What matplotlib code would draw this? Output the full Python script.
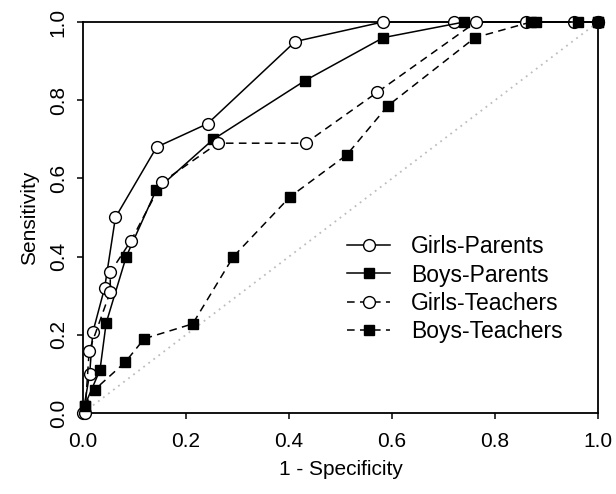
import matplotlib
matplotlib.use("Agg")
import matplotlib.pyplot as plt

plt.rcParams["font.family"] = ["Liberation Sans", "DejaVu Sans"]

# ROC points
girls_parents_x = [0.0, 0.013, 0.019, 0.042, 0.063, 0.143, 0.242, 0.412, 0.582, 0.72, 0.953, 1.0]
girls_parents_y = [0.0, 0.10, 0.206, 0.32, 0.50, 0.68, 0.74, 0.95, 1.0, 1.0, 1.0, 1.0]

boys_parents_x = [0.003, 0.033, 0.045, 0.084, 0.142, 0.253, 0.431, 0.583, 0.74, 0.88, 1.0]
boys_parents_y = [0.018, 0.11, 0.23, 0.40, 0.57, 0.70, 0.85, 0.96, 1.0, 1.0, 1.0]

girls_teachers_x = [0.004, 0.012, 0.053, 0.053, 0.093, 0.153, 0.262, 0.432, 0.571, 0.763, 0.86, 1.0]
girls_teachers_y = [0.0, 0.159, 0.31, 0.36, 0.44, 0.59, 0.69, 0.69, 0.82, 1.0, 1.0, 1.0]

boys_teachers_x = [0.003, 0.023, 0.082, 0.119, 0.213, 0.292, 0.402, 0.512, 0.592, 0.761, 0.87, 0.96, 1.0]
boys_teachers_y = [0.018, 0.06, 0.13, 0.19, 0.228, 0.40, 0.553, 0.66, 0.786, 0.96, 1.0, 1.0, 1.0]

ticks = [0.0, 0.2, 0.4, 0.6, 0.8, 1.0]

fig = plt.figure(figsize=(6.16, 4.94), dpi=100)
ax = fig.add_axes([0.1347, 0.164, 0.8363, 0.7915])

ax.plot([0, 1], [0, 1], color="#bdbdbd", linestyle=(0, (1, 2.5)), linewidth=1.3, zorder=1)

lw = 1.1
common = dict(color="black", linewidth=lw, clip_on=False, zorder=3)
ax.plot(girls_parents_x, girls_parents_y, marker="o", markersize=8.5, markerfacecolor="white",
        markeredgecolor="black", markeredgewidth=1.0, label="Girls-Parents", **common)
ax.plot(boys_parents_x, boys_parents_y, marker="s", markersize=7, markerfacecolor="black",
        markeredgecolor="black", label="Boys-Parents", **common)
ax.plot(girls_teachers_x, girls_teachers_y, marker="o", markersize=8.5, markerfacecolor="white",
        markeredgecolor="black", markeredgewidth=1.0, dashes=(5, 3.5), label="Girls-Teachers", **common)
ax.plot(boys_teachers_x, boys_teachers_y, marker="s", markersize=7, markerfacecolor="black",
        markeredgecolor="black", dashes=(5, 3.5), label="Boys-Teachers", **common)

ax.set_xlim(0, 1)
ax.set_ylim(0, 1)
ax.set_xticks(ticks)
ax.set_yticks(ticks)
ax.set_xticklabels([f"{t:.1f}" for t in ticks])
ax.set_yticklabels([f"{t:.1f}" for t in ticks], rotation=90, va="center")
ax.tick_params(direction="out", length=4, width=1.1, labelsize=15, top=False, right=False)
ax.tick_params(axis="x", pad=10)
ax.tick_params(axis="y", pad=7)
for s in ax.spines.values():
    s.set_linewidth(1.3)

ax.set_xlabel("1 - Specificity", fontsize=15, labelpad=6)
ax.set_ylabel("Sensitivity", fontsize=15, labelpad=7)

ax.legend(loc="center left", bbox_to_anchor=(0.49, 0.317), frameon=False, fontsize=16.5,
          numpoints=1, handlelength=1.9, handletextpad=0.9, labelspacing=0.22, borderpad=0)

fig.savefig("out.png", dpi=100)
